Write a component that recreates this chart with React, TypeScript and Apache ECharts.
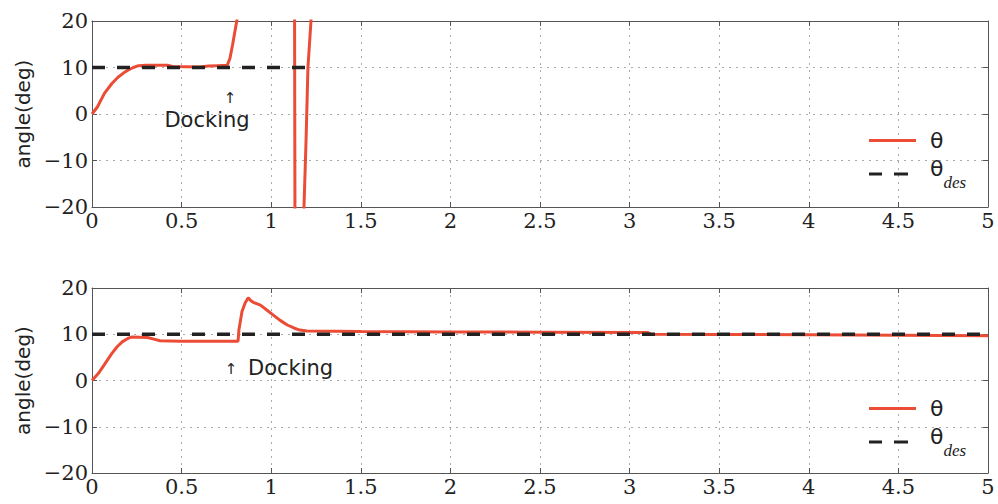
import React, { useEffect, useRef } from "react";
import * as echarts from "echarts";

// ---- data ----
const xTickLabels = ["0", "0.5", "1", "1.5", "2", "2.5", "3", "3.5", "4", "4.5", "5"];
const yTickLabels = ["−20", "−10", "0", "10", "20"];

// top panel: measured angle (diverges after docking, clipped by the axes)
const thetaTop: [number, number][] = [
  [0, 0], [0.03, 1.5], [0.07, 4.5], [0.11, 6.5], [0.145, 7.9], [0.175, 8.8], [0.2, 9.4],
  [0.23, 10.0], [0.26, 10.4], [0.3, 10.5], [0.42, 10.5], [0.45, 10.2], [0.6, 10.1],
  [0.65, 10.3], [0.7, 10.4], [0.755, 10.5], [0.77, 12], [0.785, 15], [0.81, 20.5],
  [0.83, 30], [1.13, 30], [1.133, -30], [1.18, -30], [1.183, -20], [1.195, -5],
  [1.205, 10], [1.222, 20], [1.225, 30],
];
const desTop: [number, number][] = [[0, 10], [1.235, 10]];

// bottom panel: measured angle (stabilised after docking)
const thetaBottom: [number, number][] = [
  [0, 0], [0.035, 1.5], [0.07, 3.5], [0.11, 5.8], [0.14, 7.3], [0.17, 8.4], [0.2, 9.1],
  [0.22, 9.4], [0.31, 9.3], [0.35, 8.9], [0.38, 8.6], [0.5, 8.5], [0.7, 8.5], [0.815, 8.5],
  [0.82, 11], [0.837, 14.9], [0.855, 16.8], [0.872, 17.9], [0.885, 17.3], [0.9, 16.9],
  [0.94, 16.3], [0.97, 15.4], [1.01, 14.2], [1.05, 13.0], [1.09, 12.0], [1.13, 11.3],
  [1.16, 10.9], [1.2, 10.7], [1.5, 10.6], [2.0, 10.5], [2.5, 10.45], [3.1, 10.4],
  [3.12, 10.0], [3.5, 9.95], [4.0, 9.9], [4.5, 9.8], [5, 9.7],
];
const desBottom: [number, number][] = [[0, 10], [5, 10]];

const RED = "#eb4c36";
const DARK = "#222";
const AXIS = "#555";
const SERIF = "DejaVu Serif";
const SANS = "DejaVu Sans";

export default function App() {
  const ref = useRef<HTMLDivElement>(null);

  useEffect(() => {
    document.body.style.margin = "0";
    const chart = echarts.init(ref.current!, null, { renderer: "svg" });

    const grids = [
      { left: 92, top: 21, width: 896, height: 186, show: false },
      { left: 92, top: 288, width: 896, height: 185, show: false },
    ];

    const xAxes: any[] = [];
    const yAxes: any[] = [];
    [0, 1].forEach((g) => {
      xAxes.push({
        type: "value", gridIndex: g, position: "bottom", min: 0, max: 5, interval: 0.5,
        axisLine: { show: true, onZero: false, lineStyle: { color: AXIS, width: 1 } },
        axisTick: { show: true, inside: true, length: 5, lineStyle: { color: AXIS } },
        axisLabel: {
          margin: 3, fontFamily: SERIF, fontSize: 21, color: DARK,
          formatter: (v: number) => xTickLabels[Math.round(v * 2)],
        },
        splitLine: { show: true, lineStyle: { color: "#aaa", type: [2, 5], width: 1 } },
      });
      xAxes.push({
        type: "value", gridIndex: g, position: "top", min: 0, max: 5, interval: 0.5,
        axisLine: { show: true, onZero: false, lineStyle: { color: AXIS, width: 1 } },
        axisTick: { show: true, inside: true, length: 5, lineStyle: { color: AXIS } },
        axisLabel: { show: false },
        splitLine: { show: false },
      });
      yAxes.push({
        type: "value", gridIndex: g, position: "left", min: -20, max: 20, interval: 10,
        name: "angle(deg)", nameLocation: "middle", nameGap: 59, nameRotate: 90,
        nameTextStyle: { fontFamily: SANS, fontSize: 20, color: DARK },
        axisLine: { show: true, onZero: false, lineStyle: { color: AXIS, width: 1 } },
        axisTick: { show: true, inside: true, length: 5, lineStyle: { color: AXIS } },
        axisLabel: {
          margin: 4, fontFamily: SERIF, fontSize: 21, color: DARK,
          formatter: (v: number) => yTickLabels[Math.round((v + 20) / 10)],
        },
        splitLine: { show: true, lineStyle: { color: "#aaa", type: [2, 5], width: 1 } },
      });
      yAxes.push({
        type: "value", gridIndex: g, position: "right", min: -20, max: 20, interval: 10,
        axisLine: { show: true, onZero: false, lineStyle: { color: AXIS, width: 1 } },
        axisTick: { show: true, inside: true, length: 5, lineStyle: { color: AXIS } },
        axisLabel: { show: false },
        splitLine: { show: false },
      });
    });

    const thetaStyle = { color: RED, width: 3 };
    const desStyle = { color: DARK, width: 3.5, type: [13, 12] as any };

    const series: any[] = [
      { type: "line", name: "θ", xAxisIndex: 0, yAxisIndex: 0, data: thetaTop, symbol: "none", clip: true, lineStyle: thetaStyle, itemStyle: { color: RED }, z: 2 },
      { type: "line", name: "θdes", xAxisIndex: 0, yAxisIndex: 0, data: desTop, symbol: "none", clip: true, lineStyle: desStyle, itemStyle: { color: DARK }, z: 3 },
      { type: "line", name: "θ", xAxisIndex: 2, yAxisIndex: 2, data: thetaBottom, symbol: "none", clip: true, lineStyle: thetaStyle, itemStyle: { color: RED }, z: 2 },
      { type: "line", name: "θdes", xAxisIndex: 2, yAxisIndex: 2, data: desBottom, symbol: "none", clip: true, lineStyle: desStyle, itemStyle: { color: DARK }, z: 3 },
    ];

    const legendTheta = (top: number) => ({
      data: [{ name: "θ", icon: "path://M0,0H47V3H0Z" }],
      left: 869, top, orient: "vertical", padding: 0, selectedMode: false,
      itemWidth: 47, itemHeight: 3.5,
      itemStyle: { color: RED, borderWidth: 0 },
      lineStyle: { width: 0 },
      textStyle: { fontFamily: SANS, fontSize: 22, lineHeight: 22, color: DARK, padding: [3, 0, 0, 9] },
    });
    const legendDes = (top: number) => ({
      data: [{ name: "θdes", icon: "path://M0,0H13V3H0Z M25,0H39V3H25Z" }],
      left: 869, top, orient: "vertical", padding: 0, selectedMode: false,
      itemWidth: 39, itemHeight: 3.5,
      itemStyle: { color: DARK, borderWidth: 0 },
      lineStyle: { width: 0 },
      formatter: () => "{t|θ}{s|des}",
      textStyle: {
        color: DARK, padding: [0, 0, 0, 17],
        rich: {
          t: { fontFamily: SANS, fontSize: 22, lineHeight: 34, verticalAlign: "top", color: DARK },
          s: { fontFamily: "Liberation Serif", fontStyle: "italic", fontSize: 17, lineHeight: 17, verticalAlign: "bottom", color: DARK },
        },
      },
    });

    const txt = (x: number, y: number, text: string, size: number, align = "center") => ({
      type: "text", x, y, z: 10,
      style: { text, fill: DARK, font: `${size}px ${SANS}`, align, verticalAlign: "middle" },
    });

    chart.setOption({
      animation: false,
      backgroundColor: "#fff",
      grid: grids,
      xAxis: xAxes,
      yAxis: yAxes,
      series,
      legend: [legendTheta(128), legendDes(157), legendTheta(396), legendDes(425)],
      graphic: [
        txt(230, 98, "↑", 15),
        txt(207, 120, "Docking", 21),
        txt(231, 369, "↑", 15),
        txt(248, 368, "Docking", 21, "left"),
      ],
    });

    return () => chart.dispose();
  }, []);

  return <div ref={ref} style={{ width: 998, height: 504 }} />;
}
